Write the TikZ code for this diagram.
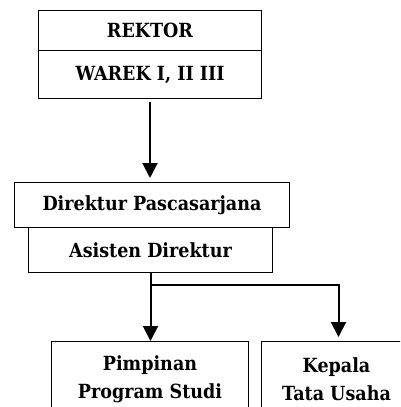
\documentclass[tikz,border=0pt]{standalone}
\usepackage{fontspec}
\setmainfont{DejaVu Serif Condensed}
\usetikzlibrary{arrows.meta}
\begin{document}
\begin{tikzpicture}[x=1pt,y=-1pt,
  box/.style={draw,line width=1pt,inner sep=0pt,align=center,
    font=\bfseries\fontsize{19.5}{28}\selectfont},
  conn/.style={line width=2pt,-{Triangle[width=15pt,length=15pt]}}]
\useasboundingbox (0,0) rectangle (400,407);
\clip (0,0) rectangle (400,407);
% top management
\node[box,minimum width=223pt,minimum height=40pt,anchor=north west] (rektor) at (38,10) {REKTOR};
\node[box,minimum width=223pt,minimum height=48pt,anchor=north west] (warek) at (38,50) {WAREK I, II III};
% directorate
\node[box,minimum width=275pt,minimum height=45pt,anchor=north west] (direktur) at (14,182) {Direktur Pascasarjana};
\node[box,minimum width=244pt,minimum height=45pt,anchor=north west] (asisten) at (28,227) {Asisten Direktur};
% units
\node[box,minimum width=197pt,minimum height=76pt,anchor=north west] (pimpinan) at (51,341) {Pimpinan\\Program Studi};
\node[box,minimum width=150pt,minimum height=76pt,anchor=north west] (kepala) at (261,341) {Kepala\\Tata Usaha};
% connectors
\draw[conn,shorten <=3pt,shorten >=4pt] (warek.south) -- (warek.south |- direktur.north);
\draw[conn] (asisten.south) -- (asisten.south |- pimpinan.north);
\coordinate (split) at ([yshift=-12pt]asisten.south);
\draw[conn,shorten >=4pt] (split) -| ([xshift=2pt]kepala.north);
\end{tikzpicture}
\end{document}
